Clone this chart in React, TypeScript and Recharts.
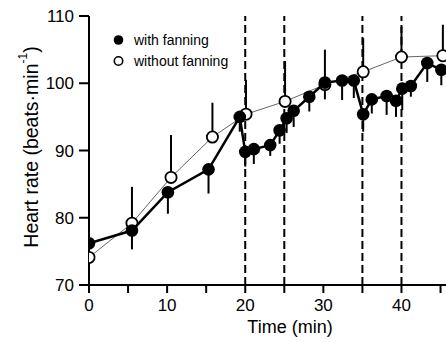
import React from 'react';
import { ComposedChart, Scatter, XAxis, YAxis, ErrorBar, ReferenceLine } from 'recharts';

// open circles: without fanning
const openTime = [0, 5.5, 10.5, 15.8, 20.1, 25.1, 30.2, 35.1, 40.0, 45.3];
const openHr = [74.1, 79.2, 86.0, 92.0, 95.4, 97.3, 99.8, 101.7, 103.9, 104.1];
const openErrDown = [1.0, 0, 0, 0, 0, 0, 0, 0, 0, 0];
const openErrUp = [0, 5.4, 6.3, 5.1, 5.1, 6.0, 5.2, 5.0, 4.5, 4.6];

// filled circles: with fanning
const fanTime = [0, 5.5, 10.1, 15.3, 19.3, 20.0, 21.1, 23.2, 24.4, 25.3, 26.2, 28.2, 30.2, 32.4, 33.9, 35.1, 36.2, 38.1, 39.3, 40.1, 41.2, 43.3, 45.1];
const fanHr = [76.2, 78.1, 83.8, 87.2, 95.0, 89.8, 90.2, 90.8, 93.0, 94.8, 95.9, 98.0, 100.1, 100.4, 100.4, 95.4, 97.6, 98.1, 97.4, 99.2, 99.6, 103.0, 102.0];
const fanErrDown = [0, 2.8, 3.2, 3.6, 2.2, 2.2, 2.2, 1.6, 2.0, 2.2, 2.4, 2.2, 2.5, 2.9, 2.6, 2.6, 2.1, 2.8, 2.4, 3.2, 1.6, 2.8, 2.3];
const fanErrUp = [1.5, 0, 0, 0, 0, 0, 0, 0, 0, 0, 0, 0, 0, 0, 0, 0, 0, 0, 0, 0, 0, 0, 0];

const xTicks = [0, 5, 10, 15, 20, 25, 30, 35, 40, 45];
const yTicks = [70, 80, 90, 100, 110];
const periodMarks = [20, 25, 35, 40];

const openData = openTime.map((t, i) => ({ t, hr: openHr[i], err: [openErrDown[i], openErrUp[i]] }));
const fanData = fanTime.map((t, i) => ({ t, hr: fanHr[i], err: [fanErrDown[i], fanErrUp[i]] }));

const FONT = '"Liberation Sans", Arial, Helvetica, sans-serif';

const FilledDot = (props: any) => <circle cx={props.cx} cy={props.cy} r={6.3} fill="#000" />;
const OpenDot = (props: any) => (
  <circle cx={props.cx} cy={props.cy} r={5.6} fill="#fff" stroke="#000" strokeWidth={1.8} />
);

const YLabel = () => (
  <text
    transform="rotate(-90, 31, 147)"
    x={31}
    y={147}
    textAnchor="middle"
    dominantBaseline="central"
    fontSize={19.5}
    fontFamily={FONT}
    fill="#000"
  >
    Heart rate (beats·min<tspan fontSize={12} dy={-8}>-1</tspan>
    <tspan dy={8}>)</tspan>
  </text>
);

const XLabel = () => (
  <text x={290} y={333} textAnchor="middle" fontSize={18} fontFamily={FONT} fill="#000">
    Time (min)
  </text>
);

export default function App() {
  return (
    <div style={{ position: 'absolute', left: 0, top: 0, width: 446, height: 342, background: '#fff' }}>
      <ComposedChart width={446} height={342} margin={{ top: 16, right: 0, bottom: 17, left: 0 }}>
        <XAxis
          type="number"
          dataKey="t"
          domain={[0, 45.7]}
          allowDataOverflow
          ticks={xTicks}
          interval={0}
          tickFormatter={(v: number) => (v % 10 === 0 ? String(v) : '')}
          height={40}
          tickSize={8}
          tickMargin={6}
          stroke="#000"
          strokeWidth={2}
          tick={{ fill: '#000', fontSize: 17, fontFamily: FONT }}
          label={<XLabel />}
        />
        <YAxis
          type="number"
          dataKey="hr"
          domain={[70, 110]}
          allowDataOverflow
          ticks={yTicks}
          interval={0}
          width={89}
          tickSize={10}
          tickMargin={5}
          stroke="#000"
          strokeWidth={2}
          tick={{ fill: '#000', fontSize: 17, fontFamily: FONT }}
          label={<YLabel />}
        />
        {periodMarks.map((m) => (
          <ReferenceLine key={m} x={m} stroke="#000" strokeWidth={2} strokeDasharray="8 4" />
        ))}
        <Scatter
          data={openData}
          line={{ stroke: '#666', strokeWidth: 1 }}
          lineType="joint"
          shape={<OpenDot />}
          isAnimationActive={false}
        >
          <ErrorBar dataKey="err" direction="y" width={0} stroke="#000" strokeWidth={2} />
        </Scatter>
        <Scatter
          data={fanData}
          line={{ stroke: '#000', strokeWidth: 2.5 }}
          lineType="joint"
          shape={<FilledDot />}
          isAnimationActive={false}
        >
          <ErrorBar dataKey="err" direction="y" width={0} stroke="#000" strokeWidth={2} />
        </Scatter>
      </ComposedChart>
      <div style={{ position: 'absolute', left: 110, top: 30, fontFamily: FONT, fontSize: 14, color: '#000' }}>
        <div style={{ display: 'flex', alignItems: 'center', height: 20 }}>
          <svg width={18} height={12}>
            <circle cx={8.5} cy={6} r={4.8} fill="#000" />
          </svg>
          <span style={{ marginLeft: 6 }}>with fanning</span>
        </div>
        <div style={{ display: 'flex', alignItems: 'center', height: 20, marginTop: 1 }}>
          <svg width={18} height={12}>
            <circle cx={8.5} cy={6} r={4.2} fill="#fff" stroke="#000" strokeWidth={1.6} />
          </svg>
          <span style={{ marginLeft: 6 }}>without fanning</span>
        </div>
      </div>
    </div>
  );
}
